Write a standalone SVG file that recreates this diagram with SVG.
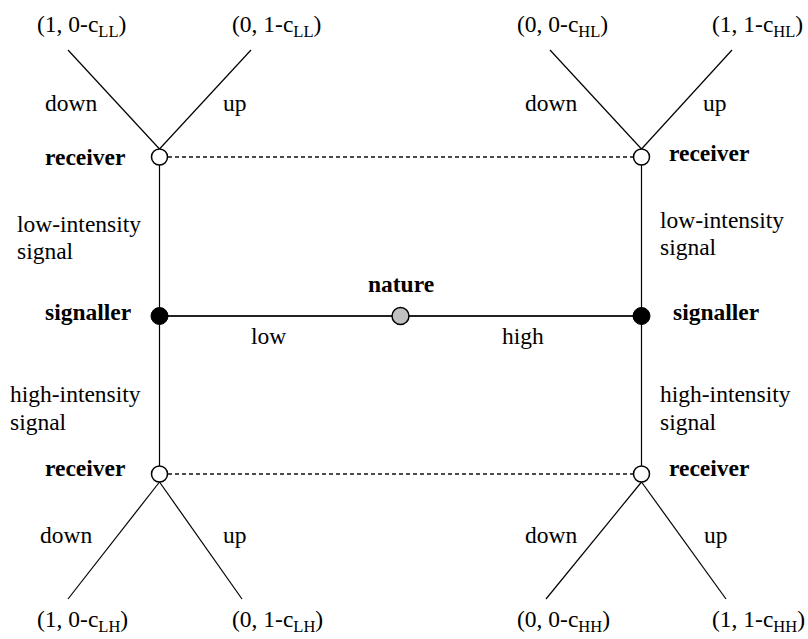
<svg xmlns="http://www.w3.org/2000/svg" width="808" height="639" viewBox="0 0 808 639">
<style>
text{font-family:"Liberation Serif","Times New Roman",serif;font-size:23.5px;fill:#000}
.b{font-weight:bold}
.sub{font-size:16.5px}
.ln{stroke:#000;stroke-width:1.2;fill:none}
.hz{stroke:#222;stroke-width:1.8;fill:none}
.ds{stroke:#111;stroke-width:1.3;stroke-dasharray:4 3;fill:none}
.open{fill:#fff;stroke:#000;stroke-width:1.5}
.fill{fill:#000;stroke:#000;stroke-width:1}
.nat{fill:#c0c0c0;stroke:#000;stroke-width:1.5}
</style>
<g id="connectors">
<line class="ln" x1="159.5" y1="149" x2="68" y2="50"/>
<line class="ln" x1="159.5" y1="149" x2="251" y2="50"/>
<line class="ln" x1="641.5" y1="149" x2="550" y2="50"/>
<line class="ln" x1="641.5" y1="149" x2="732" y2="50"/>
<line class="ln" x1="159.5" y1="482" x2="68" y2="599"/>
<line class="ln" x1="159.5" y1="482" x2="242" y2="599"/>
<line class="ln" x1="641.5" y1="482" x2="546" y2="599"/>
<line class="ln" x1="641.5" y1="482" x2="726" y2="599"/>
<line class="ln" x1="159.5" y1="165" x2="159.5" y2="466"/>
<line class="ln" x1="641.5" y1="165" x2="641.5" y2="466"/>
<line class="hz" x1="159.5" y1="316" x2="641.5" y2="316"/>
<line class="ds" x1="168" y1="157" x2="633" y2="157"/>
<line class="ds" x1="168" y1="474" x2="633" y2="474"/>
</g>
<g id="labels">
<text x="45" y="111">down</text><text x="223" y="111">up</text>
<text x="525" y="111">down</text><text x="703" y="111">up</text>
<text x="40" y="543">down</text><text x="223" y="543">up</text>
<text x="525" y="543">down</text><text x="704" y="543">up</text>
<text x="17" y="232">low-intensity</text><text x="17" y="259">signal</text>
<text x="660" y="228">low-intensity</text><text x="660" y="255">signal</text>
<text x="10" y="402">high-intensity</text><text x="10" y="430">signal</text>
<text x="660" y="402">high-intensity</text><text x="660" y="430">signal</text>
<text x="251" y="344">low</text><text x="502" y="344">high</text>
</g>
<g id="payoff-LL1"><text x="37" y="32">(1, 0-c<tspan class="sub" dy="5">LL</tspan><tspan dy="-5">)</tspan></text></g>
<g id="payoff-LL2"><text x="232" y="32">(0, 1-c<tspan class="sub" dy="5">LL</tspan><tspan dy="-5">)</tspan></text></g>
<g id="payoff-HL1"><text x="517" y="32">(0, 0-c<tspan class="sub" dy="5">HL</tspan><tspan dy="-5">)</tspan></text></g>
<g id="payoff-HL2"><text x="712" y="32">(1, 1-c<tspan class="sub" dy="5">HL</tspan><tspan dy="-5">)</tspan></text></g>
<g id="payoff-LH1"><text x="37" y="627">(1, 0-c<tspan class="sub" dy="5">LH</tspan><tspan dy="-5">)</tspan></text></g>
<g id="payoff-LH2"><text x="232" y="627">(0, 1-c<tspan class="sub" dy="5">LH</tspan><tspan dy="-5">)</tspan></text></g>
<g id="payoff-HH1"><text x="517" y="627">(0, 0-c<tspan class="sub" dy="5">HH</tspan><tspan dy="-5">)</tspan></text></g>
<g id="payoff-HH2"><text x="712" y="627">(1, 1-c<tspan class="sub" dy="5">HH</tspan><tspan dy="-5">)</tspan></text></g>
<g id="receiver-TL"><circle class="open" cx="159.5" cy="157" r="8"/><text class="b" x="45" y="165">receiver</text></g>
<g id="receiver-TR"><circle class="open" cx="641.5" cy="157" r="8"/><text class="b" x="669" y="161">receiver</text></g>
<g id="receiver-BL"><circle class="open" cx="159.5" cy="474" r="8"/><text class="b" x="45" y="476">receiver</text></g>
<g id="receiver-BR"><circle class="open" cx="641.5" cy="474" r="8"/><text class="b" x="669" y="476">receiver</text></g>
<g id="signaller-L"><circle class="fill" cx="159.5" cy="316" r="8.5"/><text class="b" x="45" y="320">signaller</text></g>
<g id="signaller-R"><circle class="fill" cx="641.5" cy="316" r="8.5"/><text class="b" x="673" y="320">signaller</text></g>
<g id="nature"><circle class="nat" cx="400.5" cy="316" r="8.5"/><text class="b" x="401" y="292" text-anchor="middle">nature</text></g>
</svg>
